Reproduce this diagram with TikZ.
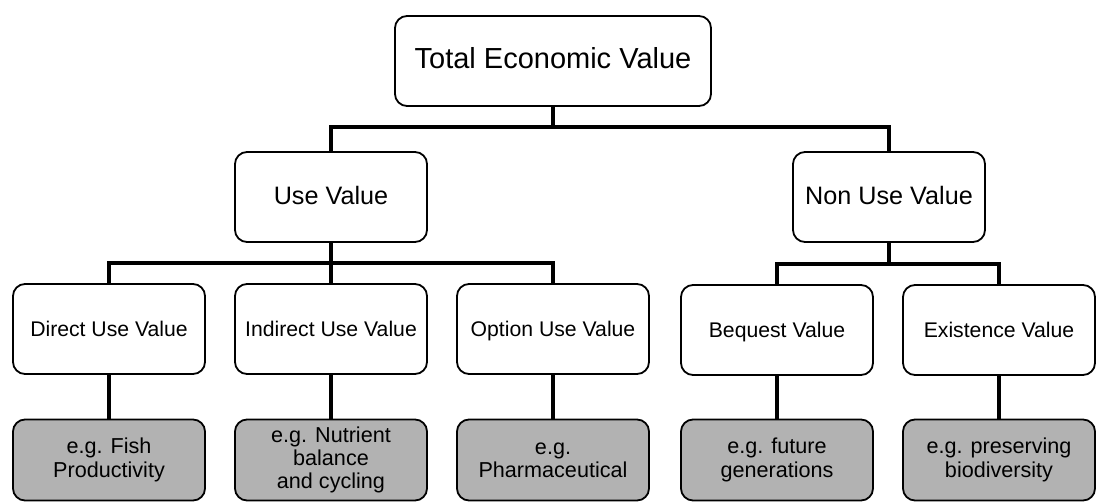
\documentclass[tikz,border=0pt]{standalone}
\usepackage{fontspec}
\setmainfont{Liberation Sans}
\usetikzlibrary{positioning,calc}

\begin{document}
\begin{tikzpicture}[x=0.5pt,y=-0.5pt]
  \tikzstyle{valbox}=[rectangle, draw, line width=0.9pt, rounded corners=6pt, fill=white, minimum width=96pt, minimum height=45pt, align=center, inner sep=2pt]
  \tikzstyle{totalbox}=[valbox, minimum width=158pt, text height=0.72em, text depth=0em, font=\fontsize{14.5}{17}\selectfont]
  \tikzstyle{midbox}=[valbox, text height=0.72em, text depth=0em, font=\fontsize{12.6}{15}\selectfont]
  \tikzstyle{subbox}=[valbox, text height=0.72em, text depth=0em, font=\fontsize{10.6}{12.5}\selectfont]
  \tikzstyle{egbox}=[valbox, fill=black!30, minimum height=40.5pt, font=\fontsize{10.8}{11.6}\selectfont]
  \tikzstyle{link}=[line width=2pt]

  \useasboundingbox (0,0) rectangle (1097,502);

  % Valor total
  \node[totalbox] (tev) at (553,61) {Total Economic Value};

  % Use / Non use
  \node[midbox] (use) at (331,197) {Use Value};
  \node[midbox] (nonuse) at (889,197) {Non Use Value};

  % Tipos de valor
  \node[subbox] (direct) at (109,329) {Direct Use Value};
  \node[subbox] (indirect) at (331,329) {Indirect Use Value};
  \node[subbox] (option) at (553,329) {Option Use Value};
  \node[subbox] (bequest) at (777,330) {Bequest Value};
  \node[subbox] (exist) at (999,330) {Existence Value};

  % Ejemplos
  \node[egbox] (egdirect) at (109,460) {e.g. Fish\\Productivity};
  \node[egbox] (egindirect) at (331,460) {e.g. Nutrient\\balance\\and cycling};
  \node[egbox] (egoption) at (553,460) {e.g.\\Pharmaceutical};
  \node[egbox] (egbequest) at (777,460) {e.g. future\\generations};
  \node[egbox] (egexist) at (999,460) {e.g. preserving\\biodiversity};

  % Conexiones
  \coordinate (j0) at ($(tev.south)+(0,20)$);
  \coordinate (j1) at ($(use.south)+(0,20)$);
  \coordinate (j2) at ($(nonuse.south)+(0,21)$);
  \draw[link] (tev.south) -- (j0);
  \draw[link] (use.north) |- (j0) -| (nonuse.north);
  \draw[link] (use.south) -- (j1);
  \draw[link] (direct.north) |- (j1) -| (option.north);
  \draw[link] (j1) -- (indirect.north);
  \draw[link] (nonuse.south) -- (j2);
  \draw[link] (bequest.north) |- (j2) -| (exist.north);

  % Conexiones a ejemplos
  \foreach \a/\b in {direct/egdirect, indirect/egindirect, option/egoption, bequest/egbequest, exist/egexist}
    \draw[link] (\a.south) -- (\b.north);
\end{tikzpicture}
\end{document}
